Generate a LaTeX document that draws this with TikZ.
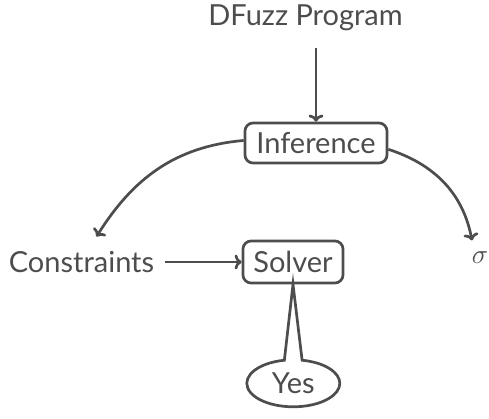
\documentclass[tikz,border=0pt]{standalone}
\usepackage{fontspec}
\setmainfont{Lato}
\usetikzlibrary{shapes.callouts,arrows.meta}
\definecolor{ink}{HTML}{4D4D4D}
\begin{document}
\begin{tikzpicture}[x=1pt,y=1pt,
  every node/.style={text=ink, font=\fontsize{29}{34}\selectfont},
  box/.style={draw=ink, line width=2.7pt, rounded corners=8pt, inner sep=0pt},
  conn/.style={draw=ink, line width=2.7pt, -{To[length=7pt,width=15pt]}},
  plain/.style={inner sep=0pt}]
\useasboundingbox (0,0) rectangle (489,418);
\node[plain, anchor=base] (prog) at (305.5,392) {DFuzz Program};
\node[box, minimum width=142pt, minimum height=40pt] (inf) at (316,275) {Inference};
\node[plain, anchor=base] (con) at (81.5,146) {Constraints};
\node[box, minimum width=100pt, minimum height=42pt] (sol) at (293,156) {Solver};
\node[plain, font=\fontsize{24.88}{30}\selectfont, scale=1.1] (sig) at (480,160.5) {$\sigma$};
\node[ellipse callout, draw=ink, line width=2.7pt, inner sep=0pt,
  minimum width=93pt, minimum height=47pt, callout pointer arc=22,
  callout absolute pointer={(sol.south)}] (yes) at (293.3,34.7) {Yes};
\draw[conn] ([yshift=-17pt]prog.south -| inf.north) -- (inf.north);
\draw[conn] (inf.178) to[out=185,in=58] ([xshift=15pt,yshift=14pt]con.north);
\draw[conn] (inf.-5) to[out=-18,in=101] ([xshift=-8pt,yshift=11pt]sig.north);
\draw[conn, shorten <=11pt] (con.east |- sol.west) -- (sol.west);
\end{tikzpicture}
\end{document}
